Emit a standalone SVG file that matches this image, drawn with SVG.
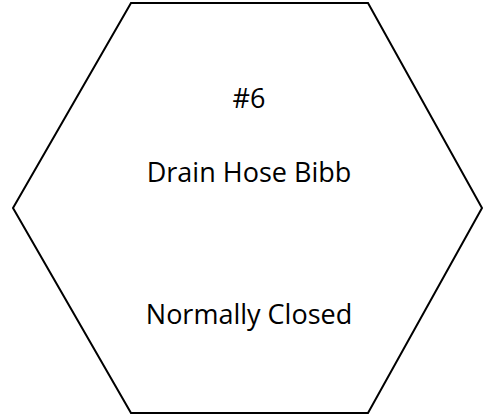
<svg xmlns="http://www.w3.org/2000/svg" width="484" height="416" viewBox="0 0 484 416">
  <style>
    .shape { fill: #ffffff; stroke: #000000; stroke-width: 2; stroke-linejoin: miter; }
    .label { font-family: "Open Sans", "Noto Sans", "Liberation Sans", sans-serif; font-size: 27px; fill: #000000; text-anchor: middle; }
  </style>
  <rect width="484" height="416" fill="#ffffff"/>
  <g id="valve-6">
    <polygon class="shape" points="131,3 368,3 482,208 368,413 131,413 13,208"/>
    <text class="label" x="249" y="108">#6</text>
    <text class="label" x="249" y="181.5">Drain Hose Bibb</text>
    <text class="label" x="249" y="324">Normally Closed</text>
  </g>
  <g id="connectors"/>
</svg>
